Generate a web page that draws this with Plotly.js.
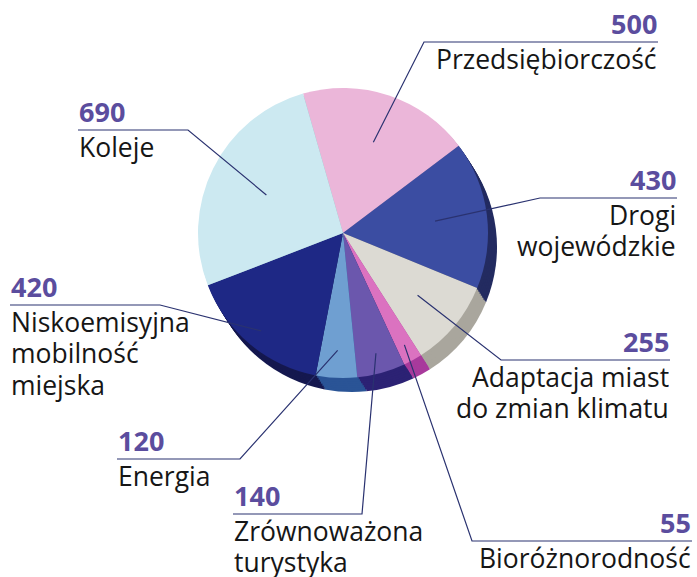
<!DOCTYPE html>
<html><head><meta charset="utf-8">
<script src="https://cdn.plot.ly/plotly-3.0.1.min.js"></script>
<style>html,body{margin:0;padding:0;background:#fff}</style>
</head><body><div id="chart" style="width:697px;height:577px"></div>
<script>
// ---- data ----
const categories = ['Przedsiębiorczość', 'Drogi<br>wojewódzkie', 'Adaptacja miast<br>do zmian klimatu', 'Bioróżnorodność', 'Zrównoważona<br>turystyka', 'Energia', 'Niskoemisyjna<br>mobilność<br>miejska', 'Koleje'];
const values = [500, 430, 255, 55, 140, 120, 420, 690];
const valueLabels = ['500', '430', '255', '55', '140', '120', '420', '690'];

// ---- styles ----
const topColors  = ['#ebb6d9', '#3b4da2', '#dcdad3', '#db72c0', '#6b57ad', '#6f9fd1', '#1e2885', '#cce9f1'];
const sideColors = ['#b58aa8', '#232b60', '#a9a69d', '#a83a9c', '#2c2274', '#2a5496', '#15184f', '#93b3bd'];

const W = 697, H = 577;
const CX = 343, CY = 233, R = 145;      // pie placement (px)
const ROT = -16;                          // start angle, clockwise from 12 o'clock
const SH_DX = 9, SH_DY = 14;              // extrusion depth
const LBL_SIZE = 26.5, NUM_SIZE = 27;
const DESC = 0.293;                       // font descent (em)
const NUM_GAP = 7, FIRST_GAP = 28, LINE_STEP = 31.5;
const LBL_BOX = 30, NUM_BOX = 29;

// label layout: side, horizontal line from a to b at y, elbow x, inner radius fraction
const labelLayout = [
  {side: 'right', a: 424, b: 658, y: 42,  elbow: 424, rf: 0.66},
  {side: 'right', a: 540, b: 677, y: 198, elbow: 540, rf: 0.64},
  {side: 'right', a: 501, b: 670, y: 360, elbow: 501, rf: 0.67},
  {side: 'right', a: 472, b: 692, y: 541, elbow: 472, rf: 0.88},
  {side: 'left',  a: 233, b: 362, y: 514, elbow: 362, rf: 0.86},
  {side: 'left',  a: 117, b: 240, y: 459, elbow: 240, rf: 0.81},
  {side: 'left',  a: 10,  b: 160, y: 305, elbow: 160, rf: 0.88},
  {side: 'left',  a: 78,  b: 188, y: 130, elbow: 188, rf: 0.59}
];

const px = x => x / W;
const py = y => 1 - y / H;
function domainAt(cx, cy) {
  return {x: [px(cx - R), px(cx + R)], y: [py(cy + R), py(cy - R)]};
}

const traces = [];
const steps = 7;
for (let s = steps; s >= 1; s--) {
  const f = s / steps;
  traces.push({
    type: 'pie', values: values, labels: categories, sort: false, direction: 'clockwise',
    rotation: ROT, textinfo: 'none', hoverinfo: 'skip', showlegend: false,
    marker: {colors: sideColors, line: {width: 0}},
    domain: domainAt(CX + SH_DX * f, CY + SH_DY * f)
  });
}
traces.push({
  type: 'pie', values: values, labels: categories, sort: false, direction: 'clockwise',
  rotation: ROT, textinfo: 'none', hoverinfo: 'skip', showlegend: false,
  marker: {colors: topColors, line: {width: 0}},
  domain: domainAt(CX, CY)
});

// leader lines & annotations
const total = values.reduce((p, c) => p + c, 0);
const shapes = [], annotations = [];
let cum = 0;
const NUMCOL = '#5b4d9e', TXTCOL = '#161616', LINECOL = '#2a3270';
values.forEach((v, i) => {
  const mid = (ROT + (cum + v / 2) / total * 360) * Math.PI / 180;
  cum += v;
  const L = labelLayout[i];
  const ix = CX + L.rf * R * Math.sin(mid), iy = CY - L.rf * R * Math.cos(mid);
  const far = L.side === 'right' ? L.b : L.a;
  shapes.push({type: 'path', xref: 'paper', yref: 'paper',
    path: `M ${px(ix)},${py(iy)} L ${px(L.elbow)},${py(L.y)} L ${px(far)},${py(L.y)}`,
    line: {color: LINECOL, width: 1.2}});
  const tx = L.side === 'right' ? L.b : L.a;
  const anchor = L.side === 'right' ? 'right' : 'left';
  const numBase = L.y - NUM_GAP;
  annotations.push({xref: 'paper', yref: 'paper', x: px(tx), y: py(numBase + DESC * NUM_SIZE),
    xanchor: anchor, yanchor: 'bottom', height: NUM_BOX, valign: 'bottom',
    text: '<b>' + valueLabels[i] + '</b>', showarrow: false, align: anchor, borderpad: 0,
    font: {family: 'Open Sans', size: NUM_SIZE, color: NUMCOL}});
  categories[i].split('<br>').forEach((line, k) => {
    const base = L.y + FIRST_GAP + k * LINE_STEP;
    annotations.push({xref: 'paper', yref: 'paper', x: px(tx), y: py(base + DESC * LBL_SIZE),
      xanchor: anchor, yanchor: 'bottom', height: LBL_BOX, valign: 'bottom',
      text: line, showarrow: false, align: anchor, borderpad: 0,
      font: {family: 'Open Sans', size: LBL_SIZE, color: TXTCOL}});
  });
});

Plotly.newPlot('chart', traces, {
  width: W, height: H, autosize: false,
  margin: {l: 0, r: 0, t: 0, b: 0},
  paper_bgcolor: '#ffffff', plot_bgcolor: '#ffffff',
  showlegend: false, shapes: shapes, annotations: annotations
}, {displayModeBar: false, staticPlot: true});
</script></body></html>
